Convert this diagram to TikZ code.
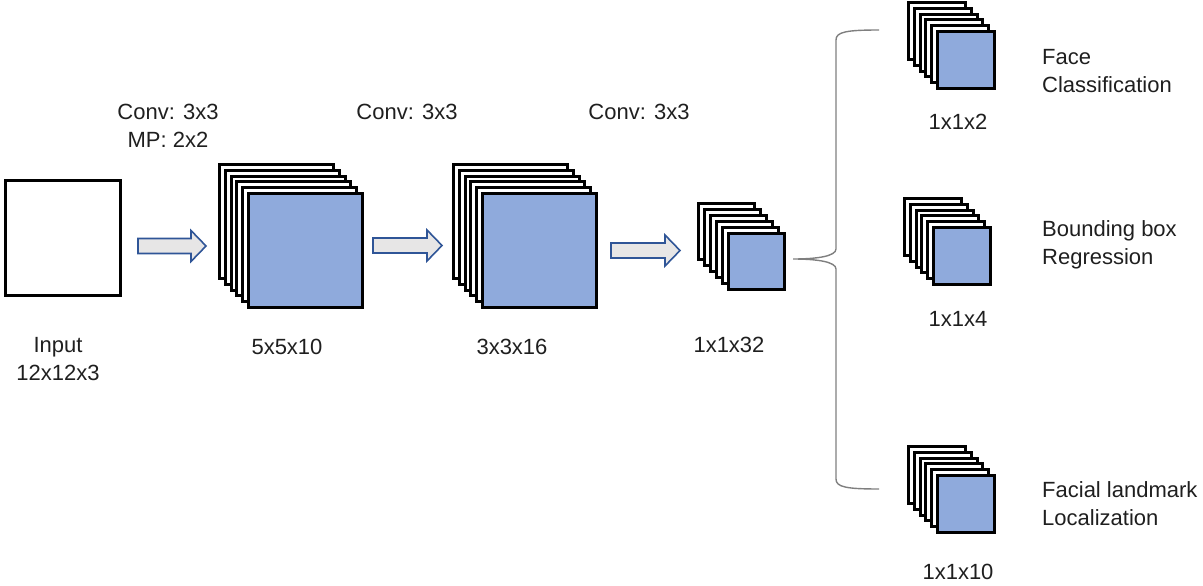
\documentclass[tikz,border=0pt]{standalone}
\usepackage{fontspec}
\setmainfont{Liberation Sans}
\definecolor{mapblue}{HTML}{8FAADC}
\definecolor{arrowfill}{HTML}{E7E6E6}
\definecolor{arrowedge}{HTML}{2F5597}
\definecolor{bracegray}{HTML}{7F7F7F}

% one stack of feature maps: name, x, y of the back sheet, size, step
\newcommand{\fmstack}[5]{%
  \foreach \k in {0,...,4} {
    \node[sheet=#4] (#1-\k) at ({#2+\k*#5},{#3+\k*#5}) {};
  }
  \node[sheet=#4, fill=mapblue] (#1) at ({#2+5*#5},{#3+5*#5}) {};
}
% hollow block arrow: x start, x tip, y centre
\newcommand{\blockarrow}[3]{%
  \draw[blockarr] (#1,{#3-7.5}) -- ({#2-15},{#3-7.5}) -- ({#2-15},{#3-15.5})
    -- (#2,#3) -- ({#2-15},{#3+15.5}) -- ({#2-15},{#3+7.5}) -- (#1,{#3+7.5}) -- cycle;
}

\begin{document}
\begin{tikzpicture}[x=1pt,y=-1pt,
  sheet/.style={draw=black, line width=3pt, fill=white, inner sep=0pt,
    minimum size=#1, anchor=north west},
  blockarr/.style={draw=arrowedge, fill=arrowfill, line width=1.6pt, line join=miter},
  lbl/.style={inner sep=0pt, font=\fontsize{22}{28}\selectfont, text=black!88, align=center},
  side/.style={lbl, anchor=west, align=left},
  bracestyle/.style={draw=bracegray, line width=1.4pt}]

\useasboundingbox (0,0) rectangle (1203,586);

% input image
\node[draw=black, line width=2.6pt, fill=white, inner sep=0pt, minimum size=115pt,
  anchor=north west] (input) at (4,179) {};

% feature map stacks
\fmstack{fa}{218}{163}{114pt}{5.8}
\fmstack{fb}{452}{163}{114pt}{5.8}
\fmstack{fc}{697}{202}{56pt}{5.9}
\fmstack{oa}{907}{1}{57pt}{5.8}
\fmstack{ob}{903}{197}{57pt}{5.8}
\fmstack{oc}{907}{445}{57pt}{5.8}

% block arrows between stages
\blockarrow{138}{206}{246}
\blockarrow{373}{442}{245.5}
\blockarrow{611}{680}{250.5}

% brace splitting into the three outputs
\coordinate (btip) at (793,259);
\coordinate (btop) at (879,30);
\coordinate (bbot) at (879,489);
\draw[bracestyle] (btop) .. controls (846,30) and (836,32) .. (836,40)
  -- (836,249) .. controls (836,256) and (818,259) .. (btip)
  .. controls (818,259) and (836,262) .. (836,269)
  -- (836,479) .. controls (836,487) and (846,489) .. (bbot);

% stage labels
\node[lbl] (t1) at (168,126) {Conv: 3x3\\MP: 2x2};
\node[lbl] (t2) at (407,112) {Conv: 3x3};
\node[lbl] (t3) at (639,112) {Conv: 3x3};

% size labels
\node[lbl] (d0) at (58,359) {Input\\12x12x3};
\node[lbl] (d1) at (287,347) {5x5x10};
\node[lbl] (d2) at (512,347) {3x3x16};
\node[lbl] (d3) at (729,345) {1x1x32};
\node[lbl] (d4) at (958,122) {1x1x2};
\node[lbl] (d5) at (958,319) {1x1x4};
\node[lbl] (d6) at (958,572) {1x1x10};

% output task labels
\node[side] (r1) at (1042,71) {Face\\Classification};
\node[side] (r2) at (1042,245) {Bounding box\\Regression};
\node[side] (r3) at (1042,504) {Facial landmark\\Localization};
\end{tikzpicture}
\end{document}
